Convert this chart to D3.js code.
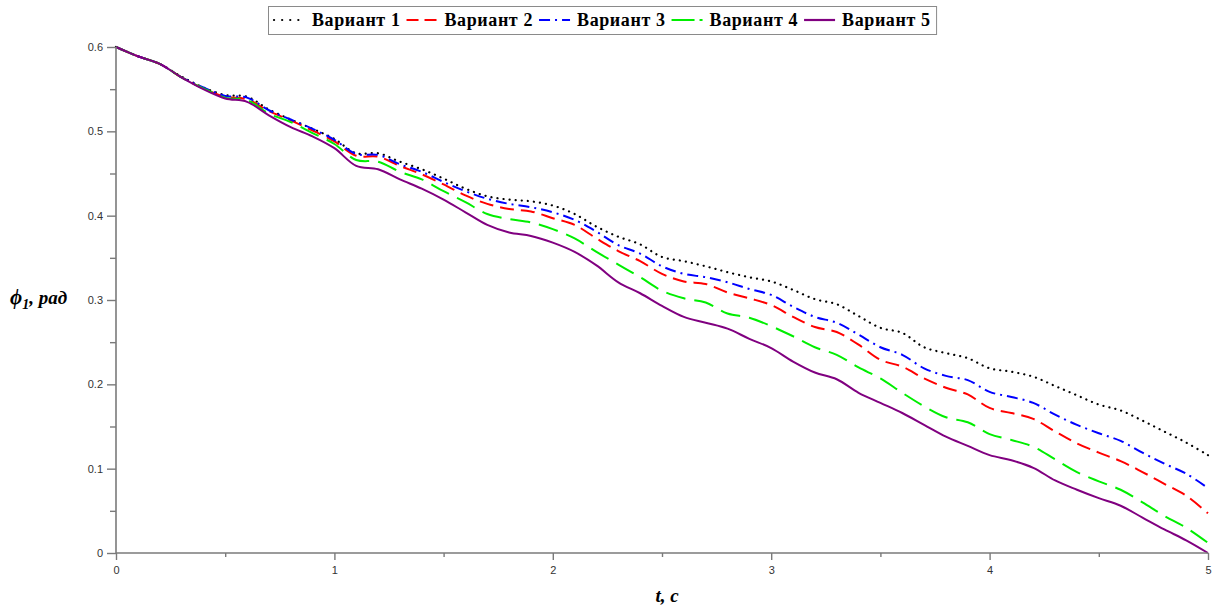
<!DOCTYPE html>
<html>
<head>
<meta charset="utf-8">
<script src="https://cdn.jsdelivr.net/npm/d3@7"></script>
<style>
  body { margin: 0; background: #fff; }
  svg { display: block; }
</style>
</head>
<body>
<div id="chart"></div>
<script>
const width = 1221;
const height = 610;
const margin = { top: 47, right: 13, bottom: 57, left: 116 };

// time, s
const times = d3.range(0, 51).map(i => i / 10);

const variantNames = ['Вариант 1', 'Вариант 2', 'Вариант 3', 'Вариант 4', 'Вариант 5'];

const variant1 = [0.600, 0.589, 0.580, 0.565, 0.552, 0.543, 0.541, 0.526, 0.514, 0.503,
  0.491, 0.474, 0.474, 0.464, 0.455, 0.444, 0.432, 0.423, 0.419, 0.417,
  0.412, 0.402, 0.387, 0.375, 0.366, 0.351, 0.346, 0.340, 0.333, 0.327,
  0.322, 0.312, 0.301, 0.295, 0.281, 0.267, 0.261, 0.244, 0.237, 0.231,
  0.219, 0.215, 0.209, 0.198, 0.187, 0.176, 0.169, 0.157, 0.144, 0.131, 0.116];

const variant2 = [0.600, 0.589, 0.580, 0.564, 0.551, 0.541, 0.538, 0.524, 0.513, 0.501,
  0.488, 0.471, 0.470, 0.459, 0.449, 0.437, 0.424, 0.414, 0.408, 0.405,
  0.397, 0.389, 0.373, 0.358, 0.346, 0.331, 0.322, 0.319, 0.309, 0.302,
  0.294, 0.280, 0.268, 0.262, 0.247, 0.229, 0.221, 0.207, 0.196, 0.188,
  0.172, 0.166, 0.159, 0.144, 0.130, 0.119, 0.109, 0.096, 0.082, 0.068, 0.047];

const variant3 = [0.600, 0.589, 0.580, 0.564, 0.552, 0.542, 0.540, 0.525, 0.514, 0.503,
  0.490, 0.473, 0.472, 0.461, 0.452, 0.440, 0.429, 0.420, 0.414, 0.410,
  0.404, 0.395, 0.381, 0.365, 0.355, 0.340, 0.331, 0.327, 0.321, 0.313,
  0.306, 0.292, 0.280, 0.273, 0.259, 0.244, 0.235, 0.219, 0.210, 0.205,
  0.191, 0.185, 0.178, 0.164, 0.152, 0.142, 0.133, 0.119, 0.106, 0.094, 0.077];

const variant4 = [0.600, 0.589, 0.580, 0.564, 0.551, 0.540, 0.537, 0.521, 0.511, 0.498,
  0.485, 0.466, 0.464, 0.452, 0.443, 0.429, 0.416, 0.402, 0.396, 0.392,
  0.384, 0.373, 0.357, 0.342, 0.327, 0.311, 0.302, 0.297, 0.284, 0.279,
  0.269, 0.257, 0.244, 0.235, 0.220, 0.207, 0.190, 0.174, 0.161, 0.155,
  0.141, 0.134, 0.126, 0.111, 0.096, 0.085, 0.075, 0.060, 0.044, 0.030, 0.012];

const variant5 = [0.600, 0.589, 0.580, 0.564, 0.550, 0.539, 0.535, 0.519, 0.505, 0.494,
  0.480, 0.459, 0.455, 0.443, 0.432, 0.419, 0.404, 0.389, 0.380, 0.376,
  0.368, 0.357, 0.341, 0.321, 0.308, 0.293, 0.280, 0.273, 0.266, 0.254,
  0.243, 0.227, 0.214, 0.206, 0.190, 0.178, 0.166, 0.152, 0.138, 0.127,
  0.116, 0.110, 0.101, 0.086, 0.075, 0.065, 0.056, 0.042, 0.028, 0.015, 0.000];

const xTicks = [0, 1, 2, 3, 4, 5];
const yTicks = [0, 0.1, 0.2, 0.3, 0.4, 0.5, 0.6];

const styles = [
  { color: '#000000', dash: '0.1 6', cap: 'round', w: 2.2 },
  { color: '#ff0000', dash: '14 7', cap: 'butt', w: 2 },
  { color: '#0000ff', dash: '11 5 2 5', cap: 'butt', w: 2 },
  { color: '#00ee00', dash: '20 9', cap: 'butt', w: 2 },
  { color: '#800080', dash: null, cap: 'butt', w: 2 }
];

const seriesValues = [variant1, variant2, variant3, variant4, variant5];

const x = d3.scaleLinear().domain([0, 5]).range([margin.left, width - margin.right]);
const y = d3.scaleLinear().domain([0, 0.6]).range([height - margin.bottom, margin.top]);

const svg = d3.select('#chart').append('svg')
  .attr('width', width)
  .attr('height', height);

// lines
const line = d3.line()
  .x(d => x(d[0]))
  .y(d => y(d[1]))
  .curve(d3.curveCatmullRom.alpha(0.5));

seriesValues.forEach((vals, i) => {
  const s = styles[i];
  svg.append('path')
    .attr('fill', 'none')
    .attr('stroke', s.color)
    .attr('stroke-width', s.w)
    .attr('stroke-linecap', s.cap)
    .attr('stroke-linejoin', 'round')
    .attr('stroke-dasharray', s.dash)
    .attr('d', line(times.map((t, j) => [t, vals[j]])));
});

// axes
const axisColor = '#7a7a7a';
const labelFont = '"Liberation Sans", Arial, sans-serif';

const xAxis = svg.append('g')
  .attr('transform', `translate(0,${y(0)})`)
  .call(d3.axisBottom(x).tickValues(xTicks).tickFormat(d3.format('d')).tickSize(7).tickPadding(6));

const xMinor = svg.append('g')
  .attr('transform', `translate(0,${y(0)})`)
  .call(d3.axisBottom(x).tickValues(d3.range(0.5, 5, 1)).tickFormat('').tickSize(4));

const yAxis = svg.append('g')
  .attr('transform', `translate(${x(0)},0)`)
  .call(d3.axisLeft(y).tickValues(yTicks).tickFormat(d => d === 0 ? '0' : d3.format('.1f')(d)).tickSize(9).tickPadding(4));

const yMinor = svg.append('g')
  .attr('transform', `translate(${x(0)},0)`)
  .call(d3.axisLeft(y).tickValues(d3.range(0.05, 0.6, 0.1)).tickFormat('').tickSize(6));

[xAxis, xMinor, yAxis, yMinor].forEach(g => {
  g.selectAll('.domain').attr('stroke', axisColor).attr('stroke-width', 1.6);
  g.selectAll('.tick line').attr('stroke', axisColor).attr('stroke-width', 1.4);
  g.selectAll('.tick text')
    .attr('fill', '#333')
    .style('font-family', labelFont)
    .style('font-size', '11px');
});
xAxis.select('.domain').attr('d', `M${x(0)},0H${x(5)}`);
xMinor.select('.domain').remove();
yMinor.select('.domain').remove();
yAxis.select('.domain').attr('d', `M0,${y(0)}V${y(0.6)}`);

// axis titles
const titleFont = '"Liberation Serif", "Times New Roman", serif';

const yTitle = svg.append('text')
  .attr('x', 10)
  .attr('y', 304)
  .style('font-family', titleFont)
  .style('font-size', '19px')
  .style('font-weight', 'bold')
  .style('font-style', 'italic')
  .attr('fill', '#000');
yTitle.append('tspan').style('font-size', '21px').text('ϕ');
yTitle.append('tspan').attr('dy', 5).style('font-size', '14px').text('1');
yTitle.append('tspan').attr('dy', -5).text(', рад');

svg.append('text')
  .attr('x', 667)
  .attr('y', 602)
  .attr('text-anchor', 'middle')
  .style('font-family', titleFont)
  .style('font-size', '19px')
  .style('font-weight', 'bold')
  .style('font-style', 'italic')
  .text('t, c');

// legend
const legend = svg.append('g');
const legendBox = legend.append('rect')
  .attr('x', 268.5)
  .attr('y', 6.5)
  .attr('height', 28)
  .attr('fill', '#fff')
  .attr('stroke', '#8a8a8a')
  .attr('stroke-width', 1);

const legendSamples = [
  { dash: '0.1 8', cap: 'round' },
  { dash: '12 6', cap: 'butt' },
  { dash: '11 5 2 5', cap: 'butt' },
  { dash: '23 5 3 30', cap: 'butt' },
  { dash: null, cap: 'butt' }
];

let cursor = 274;
variantNames.forEach((name, i) => {
  const s = styles[i];
  legend.append('line')
    .attr('x1', cursor)
    .attr('x2', cursor + 31)
    .attr('y1', 20)
    .attr('y2', 20)
    .attr('stroke', s.color)
    .attr('stroke-width', 2.2)
    .attr('stroke-linecap', legendSamples[i].cap)
    .attr('stroke-dasharray', legendSamples[i].dash);
  const t = legend.append('text')
    .attr('x', cursor + 38)
    .attr('y', 26)
    .style('font-family', titleFont)
    .style('font-size', '18px')
    .style('font-weight', 'bold')
    .style('letter-spacing', '0.6px')
    .text(name);
  cursor += 38 + t.node().getComputedTextLength() + 6;
});
legendBox.attr('width', cursor - 268.5);
</script>
</body>
</html>
